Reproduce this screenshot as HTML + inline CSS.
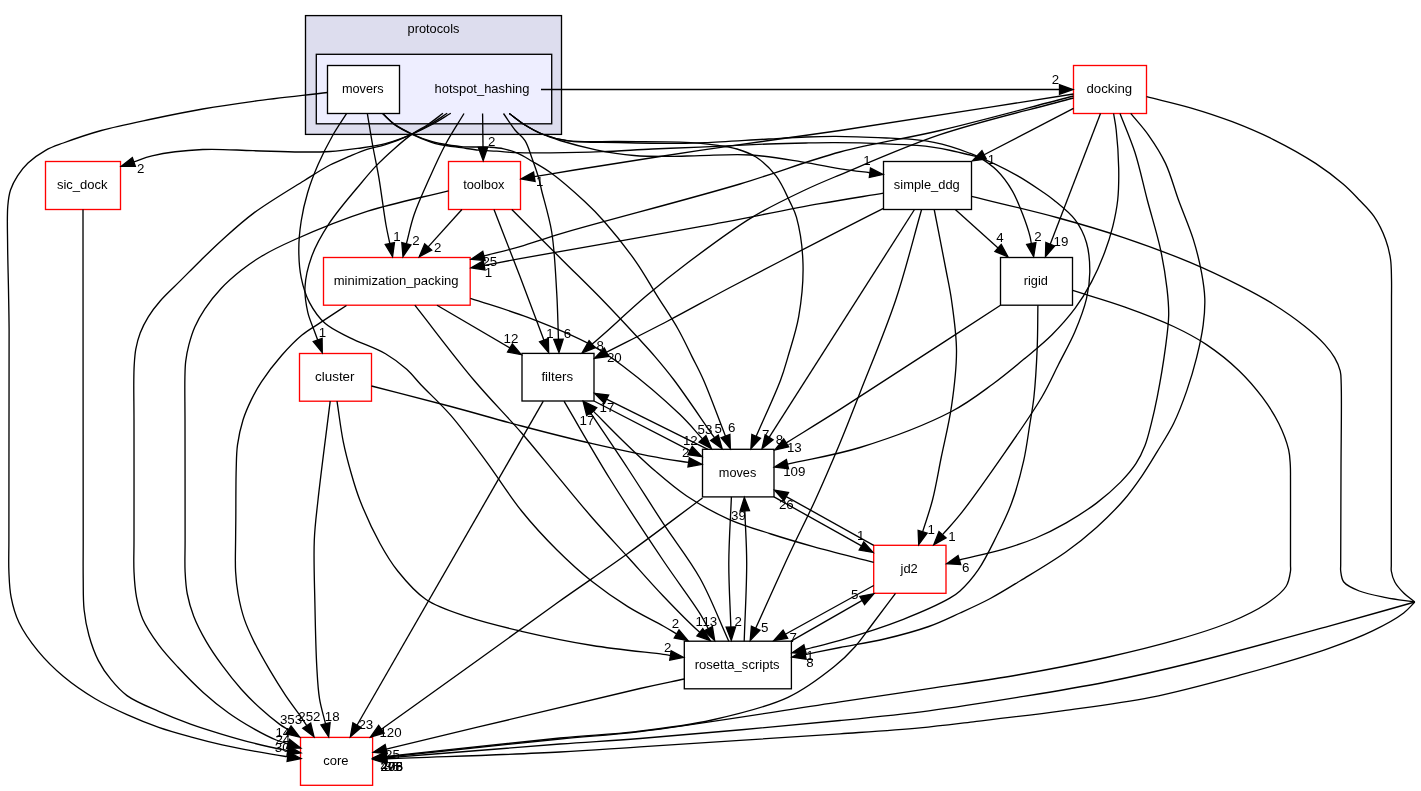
<!DOCTYPE html>
<html><head><meta charset="utf-8"><title>protocols/hotspot_hashing</title>
<style>html,body{margin:0;padding:0;background:#fff}body{width:1421px;height:791px;overflow:hidden}</style></head>
<body>
<svg width="1421" height="791" viewBox="0 0 1421 791" style="display:block">
<rect width="1421" height="791" fill="#fff"/>
<rect x="305.5" y="15.6" width="256" height="118.8" fill="#ddddee" stroke="#000" stroke-width="1.33"/>
<rect x="316.3" y="54.3" width="235.4" height="69.5" fill="#eeeeff" stroke="#000" stroke-width="1.33"/>
<g font-family="Liberation Sans, sans-serif" font-size="13.33" fill="#000" style="filter:grayscale(1)">
<text x="407.55" y="32.60" textLength="51.90" lengthAdjust="spacingAndGlyphs">protocols</text>
<text x="434.50" y="93.20" textLength="95.00" lengthAdjust="spacingAndGlyphs">hotspot_hashing</text>
</g>
<rect x="327.5" y="65.5" width="72.00" height="48.00" fill="#fff" stroke="#000" stroke-width="1.33"/>
<rect x="1073.5" y="65.5" width="73.00" height="48.00" fill="#fff" stroke="#f00" stroke-width="1.33"/>
<rect x="45.5" y="161.5" width="75.00" height="48.00" fill="#fff" stroke="#f00" stroke-width="1.33"/>
<rect x="448.5" y="161.5" width="72.00" height="48.00" fill="#fff" stroke="#f00" stroke-width="1.33"/>
<rect x="883.5" y="161.5" width="88.00" height="48.00" fill="#fff" stroke="#000" stroke-width="1.33"/>
<rect x="323.5" y="257.5" width="146.70" height="47.70" fill="#fff" stroke="#f00" stroke-width="1.33"/>
<rect x="1000.5" y="257.5" width="72.00" height="47.70" fill="#fff" stroke="#000" stroke-width="1.33"/>
<rect x="299.5" y="353.5" width="72.00" height="47.70" fill="#fff" stroke="#f00" stroke-width="1.33"/>
<rect x="522" y="353.4" width="72.00" height="47.60" fill="#fff" stroke="#000" stroke-width="1.33"/>
<rect x="702.5" y="449.3" width="71.50" height="47.60" fill="#fff" stroke="#000" stroke-width="1.33"/>
<rect x="873.7" y="545.3" width="72.30" height="48.00" fill="#fff" stroke="#f00" stroke-width="1.33"/>
<rect x="684.3" y="641.2" width="107.10" height="47.60" fill="#fff" stroke="#000" stroke-width="1.33"/>
<rect x="300.5" y="737.4" width="72.10" height="47.90" fill="#fff" stroke="#f00" stroke-width="1.33"/>
<g font-family="Liberation Sans, sans-serif" font-size="13.33" fill="#000" style="filter:grayscale(1)">
<text x="341.90" y="93.00" textLength="41.80" lengthAdjust="spacingAndGlyphs">movers</text>
<text x="1086.50" y="93.00" textLength="45.60" lengthAdjust="spacingAndGlyphs">docking</text>
<text x="56.95" y="189.00" textLength="50.70" lengthAdjust="spacingAndGlyphs">sic_dock</text>
<text x="463.15" y="189.00" textLength="41.30" lengthAdjust="spacingAndGlyphs">toolbox</text>
<text x="893.85" y="189.00" textLength="65.90" lengthAdjust="spacingAndGlyphs">simple_ddg</text>
<text x="333.70" y="284.85" textLength="124.90" lengthAdjust="spacingAndGlyphs">minimization_packing</text>
<text x="1023.75" y="284.85" textLength="24.10" lengthAdjust="spacingAndGlyphs">rigid</text>
<text x="315.05" y="380.85" textLength="39.50" lengthAdjust="spacingAndGlyphs">cluster</text>
<text x="541.45" y="380.70" textLength="31.70" lengthAdjust="spacingAndGlyphs">filters</text>
<text x="718.80" y="476.60" textLength="37.50" lengthAdjust="spacingAndGlyphs">moves</text>
<text x="900.50" y="572.80" textLength="17.30" lengthAdjust="spacingAndGlyphs">jd2</text>
<text x="694.70" y="668.50" textLength="84.90" lengthAdjust="spacingAndGlyphs">rosetta_scripts</text>
<text x="323.20" y="764.85" textLength="25.30" lengthAdjust="spacingAndGlyphs">core</text>
</g>
<g font-family="Liberation Sans, sans-serif" font-size="13.33" fill="#000" style="filter:grayscale(1)">
<text x="136.89" y="173.40" textLength="7.41" lengthAdjust="spacingAndGlyphs">2</text>
<text x="1051.69" y="84.40" textLength="7.41" lengthAdjust="spacingAndGlyphs">2</text>
<text x="863.29" y="165.40" textLength="7.41" lengthAdjust="spacingAndGlyphs">1</text>
<text x="987.79" y="164.00" textLength="7.41" lengthAdjust="spacingAndGlyphs">1</text>
<text x="487.89" y="145.80" textLength="7.41" lengthAdjust="spacingAndGlyphs">2</text>
<text x="535.99" y="186.40" textLength="7.41" lengthAdjust="spacingAndGlyphs">1</text>
<text x="393.29" y="241.40" textLength="7.41" lengthAdjust="spacingAndGlyphs">1</text>
<text x="412.29" y="245.10" textLength="7.41" lengthAdjust="spacingAndGlyphs">2</text>
<text x="433.89" y="252.20" textLength="7.41" lengthAdjust="spacingAndGlyphs">2</text>
<text x="482.39" y="266.10" textLength="14.83" lengthAdjust="spacingAndGlyphs">25</text>
<text x="484.79" y="276.80" textLength="7.41" lengthAdjust="spacingAndGlyphs">1</text>
<text x="996.29" y="242.40" textLength="7.41" lengthAdjust="spacingAndGlyphs">4</text>
<text x="1034.29" y="240.80" textLength="7.41" lengthAdjust="spacingAndGlyphs">2</text>
<text x="1053.59" y="246.40" textLength="14.83" lengthAdjust="spacingAndGlyphs">19</text>
<text x="318.79" y="336.80" textLength="7.41" lengthAdjust="spacingAndGlyphs">1</text>
<text x="503.49" y="343.40" textLength="14.83" lengthAdjust="spacingAndGlyphs">12</text>
<text x="546.19" y="337.70" textLength="7.41" lengthAdjust="spacingAndGlyphs">1</text>
<text x="563.79" y="338.30" textLength="7.41" lengthAdjust="spacingAndGlyphs">6</text>
<text x="596.49" y="350.40" textLength="7.41" lengthAdjust="spacingAndGlyphs">8</text>
<text x="606.89" y="361.50" textLength="14.83" lengthAdjust="spacingAndGlyphs">20</text>
<text x="599.59" y="411.60" textLength="14.83" lengthAdjust="spacingAndGlyphs">17</text>
<text x="579.49" y="425.30" textLength="14.83" lengthAdjust="spacingAndGlyphs">17</text>
<text x="697.59" y="434.40" textLength="14.83" lengthAdjust="spacingAndGlyphs">53</text>
<text x="714.59" y="433.40" textLength="7.41" lengthAdjust="spacingAndGlyphs">5</text>
<text x="727.89" y="431.90" textLength="7.41" lengthAdjust="spacingAndGlyphs">6</text>
<text x="682.89" y="445.20" textLength="14.83" lengthAdjust="spacingAndGlyphs">12</text>
<text x="681.89" y="456.60" textLength="7.41" lengthAdjust="spacingAndGlyphs">2</text>
<text x="762.09" y="438.90" textLength="7.41" lengthAdjust="spacingAndGlyphs">7</text>
<text x="775.79" y="444.10" textLength="7.41" lengthAdjust="spacingAndGlyphs">8</text>
<text x="786.89" y="452.40" textLength="14.83" lengthAdjust="spacingAndGlyphs">13</text>
<text x="783.18" y="476.20" textLength="22.24" lengthAdjust="spacingAndGlyphs">109</text>
<text x="778.89" y="508.90" textLength="14.83" lengthAdjust="spacingAndGlyphs">26</text>
<text x="730.99" y="519.90" textLength="14.83" lengthAdjust="spacingAndGlyphs">39</text>
<text x="856.99" y="540.40" textLength="7.41" lengthAdjust="spacingAndGlyphs">1</text>
<text x="927.49" y="534.40" textLength="7.41" lengthAdjust="spacingAndGlyphs">1</text>
<text x="948.19" y="541.40" textLength="7.41" lengthAdjust="spacingAndGlyphs">1</text>
<text x="961.89" y="572.00" textLength="7.41" lengthAdjust="spacingAndGlyphs">6</text>
<text x="851.09" y="599.00" textLength="7.41" lengthAdjust="spacingAndGlyphs">5</text>
<text x="671.69" y="628.40" textLength="7.41" lengthAdjust="spacingAndGlyphs">2</text>
<text x="695.49" y="625.80" textLength="7.41" lengthAdjust="spacingAndGlyphs">1</text>
<text x="702.39" y="625.80" textLength="14.83" lengthAdjust="spacingAndGlyphs">13</text>
<text x="734.59" y="626.40" textLength="7.41" lengthAdjust="spacingAndGlyphs">2</text>
<text x="760.99" y="632.10" textLength="7.41" lengthAdjust="spacingAndGlyphs">5</text>
<text x="789.49" y="641.60" textLength="7.41" lengthAdjust="spacingAndGlyphs">7</text>
<text x="806.29" y="660.20" textLength="7.41" lengthAdjust="spacingAndGlyphs">1</text>
<text x="806.29" y="666.90" textLength="7.41" lengthAdjust="spacingAndGlyphs">8</text>
<text x="663.89" y="652.20" textLength="7.41" lengthAdjust="spacingAndGlyphs">2</text>
<text x="279.88" y="724.00" textLength="22.24" lengthAdjust="spacingAndGlyphs">353</text>
<text x="298.28" y="720.90" textLength="22.24" lengthAdjust="spacingAndGlyphs">252</text>
<text x="324.79" y="720.90" textLength="14.83" lengthAdjust="spacingAndGlyphs">18</text>
<text x="358.39" y="728.70" textLength="14.83" lengthAdjust="spacingAndGlyphs">23</text>
<text x="379.38" y="737.10" textLength="22.24" lengthAdjust="spacingAndGlyphs">120</text>
<text x="275.39" y="737.10" textLength="14.83" lengthAdjust="spacingAndGlyphs">14</text>
<text x="275.39" y="744.40" textLength="14.83" lengthAdjust="spacingAndGlyphs">24</text>
<text x="274.79" y="752.40" textLength="14.83" lengthAdjust="spacingAndGlyphs">30</text>
<text x="384.99" y="758.90" textLength="14.83" lengthAdjust="spacingAndGlyphs">25</text>
<text x="380.58" y="770.90" textLength="22.24" lengthAdjust="spacingAndGlyphs">208</text>
<text x="380.58" y="770.90" textLength="22.24" lengthAdjust="spacingAndGlyphs">296</text>
<text x="380.58" y="770.90" textLength="22.24" lengthAdjust="spacingAndGlyphs">475</text>
<text x="384.29" y="770.90" textLength="14.83" lengthAdjust="spacingAndGlyphs">36</text>
</g>
<g fill="none" stroke="#000" stroke-width="1.33">
<path d="M541.00,89.50C627.33,89.50 713.63,89.50 800.00,89.50C886.46,89.50 973.00,89.50 1059.50,89.50"/>
<path d="M482.60,113.50L483.02,147.30"/>
<path d="M464.00,113.50C457.77,123.90 451.02,134.00 445.30,144.70C439.55,155.43 434.70,166.38 429.60,177.80C424.25,189.78 417.99,203.26 414.00,215.00C410.57,225.08 408.92,234.18 406.38,243.77"/>
<path d="M450.80,113.30C444.53,117.03 438.43,121.04 432.00,124.50C425.54,127.98 419.31,131.08 412.10,134.10C403.93,137.53 394.49,141.31 385.40,143.70C376.35,146.07 366.95,147.10 357.70,148.40C348.48,149.70 339.43,150.89 330.00,151.50C320.21,152.13 311.12,152.06 300.00,152.00C286.08,151.92 268.93,151.11 253.00,150.70C236.52,150.28 219.47,148.66 202.70,149.50C185.80,150.34 164.54,152.92 152.00,155.80C144.32,157.57 139.90,159.92 133.85,161.98"/>
<path d="M447.20,113.30C441.47,117.03 435.87,121.03 430.00,124.50C424.16,127.96 418.76,131.00 412.10,134.10C404.18,137.78 393.57,142.08 385.40,144.70C378.75,146.84 372.99,147.33 366.90,149.30C360.69,151.31 354.62,154.10 348.50,156.70C342.32,159.33 336.58,161.55 330.00,165.00C321.95,169.22 314.06,174.42 304.00,180.70C289.78,189.58 267.57,202.75 253.00,213.60C241.07,222.48 231.33,231.67 222.10,240.00C214.26,247.07 207.84,253.42 200.90,260.20C194.04,266.89 187.44,273.66 180.70,280.40C173.94,287.16 166.10,294.13 160.40,300.70C155.62,306.20 151.72,311.27 148.30,316.80C145.05,322.05 142.30,327.49 140.20,333.00C138.18,338.30 136.80,343.76 135.80,349.20C134.81,354.56 134.53,359.99 134.20,365.40C133.87,370.79 133.86,375.05 133.80,381.60C133.70,391.68 133.96,403.65 134.00,420.00C134.08,448.90 134.00,512.84 134.00,540.00C134.00,553.96 133.51,561.73 134.00,571.70C134.44,580.65 134.95,588.98 136.50,597.10C137.98,604.85 139.59,611.96 142.90,619.40C146.65,627.85 152.85,636.83 158.70,644.80C164.49,652.69 170.83,659.48 177.80,667.00C185.52,675.32 194.53,684.58 203.20,692.40C211.48,699.86 219.94,706.81 228.60,713.00C236.89,718.92 245.71,724.25 254.00,728.90C261.55,733.14 269.86,737.39 276.20,740.00C280.70,741.86 284.14,742.61 288.10,743.92"/>
<path d="M443.00,113.30C438.00,117.03 433.16,121.03 428.00,124.50C422.86,127.96 417.39,130.37 412.10,134.10C406.26,138.22 400.42,143.28 394.60,148.40C388.42,153.84 381.91,159.83 376.10,165.90C370.39,171.87 366.14,177.08 360.00,184.50C351.24,195.08 337.39,210.81 329.00,223.70C321.75,234.83 315.63,245.66 311.60,256.70C307.93,266.77 305.51,277.31 305.00,287.00C304.54,295.80 306.07,304.80 307.80,312.40C309.28,318.90 312.19,324.95 314.00,330.00C315.37,333.82 316.46,336.70 317.68,340.05"/>
<path d="M503.50,113.50C507.33,119.00 511.12,125.23 515.00,130.00C518.30,134.06 522.27,136.31 525.00,140.60C528.12,145.51 529.74,152.09 532.00,158.30C534.45,165.04 537.45,173.73 539.10,179.60C540.24,183.65 540.40,185.37 541.50,190.00C543.70,199.31 549.21,216.62 551.70,232.00C554.65,250.23 555.56,273.61 556.70,292.50C557.70,309.09 557.88,323.71 558.47,339.31"/>
<path d="M509.30,113.50C514.53,117.33 519.53,121.58 525.00,125.00C530.44,128.40 535.58,131.52 542.00,134.00C549.56,136.92 557.66,139.23 567.80,140.60C581.80,142.49 600.86,141.26 618.60,141.50C638.10,141.77 661.99,141.25 680.00,142.10C694.19,142.77 707.54,143.85 718.00,145.30C725.45,146.34 730.76,147.10 737.00,149.00C743.44,150.96 749.92,153.02 756.00,157.00C763.07,161.63 770.59,168.84 776.20,176.20C781.90,183.68 786.19,194.06 789.80,201.60C792.58,207.42 794.61,210.58 796.50,217.40C799.62,228.69 802.54,247.96 803.00,264.00C803.49,281.00 801.51,300.47 798.70,316.70C796.21,331.04 791.36,345.10 788.00,356.60C785.41,365.47 784.11,370.62 780.60,380.00C775.05,394.84 764.31,417.57 756.17,436.36"/>
<path d="M509.30,113.50C514.53,117.33 519.53,121.58 525.00,125.00C530.44,128.40 536.16,131.41 542.00,134.00C547.83,136.58 552.91,138.31 560.00,140.50C569.88,143.55 583.77,147.31 596.00,149.80C608.43,152.33 621.52,154.41 634.00,155.50C645.98,156.55 658.03,156.40 669.40,156.40C679.97,156.40 688.51,155.82 700.00,155.60C714.80,155.32 733.90,153.97 750.80,155.00C767.77,156.03 785.46,159.27 801.60,161.80C816.40,164.12 831.58,167.49 844.00,169.40C853.68,170.89 861.28,171.61 869.91,172.72"/>
<path d="M509.30,113.50C514.53,117.33 519.53,121.58 525.00,125.00C530.44,128.40 535.58,131.49 542.00,134.00C549.56,136.95 557.66,139.31 567.80,140.80C581.80,142.85 600.86,142.07 618.60,142.50C638.10,142.97 664.06,143.51 680.00,143.40C690.18,143.33 694.76,143.14 705.00,142.70C721.36,142.00 750.29,140.03 768.70,139.00C782.79,138.21 794.29,137.43 806.00,137.00C816.41,136.62 824.34,136.34 835.50,136.40C850.15,136.48 871.51,137.33 886.30,138.00C897.79,138.52 908.20,138.91 916.90,139.80C923.41,140.47 928.27,141.17 933.90,142.30C939.57,143.44 945.19,144.92 950.80,146.60C956.49,148.31 962.68,150.51 967.80,152.50C972.13,154.18 975.43,155.20 979.60,157.60C985.01,160.72 991.72,165.27 997.00,170.50C1002.72,176.17 1008.05,183.58 1012.30,190.80C1016.50,197.95 1019.43,205.93 1022.40,213.60C1025.32,221.13 1028.59,230.91 1030.00,236.40C1030.77,239.41 1030.86,241.15 1031.30,243.53"/>
<path d="M383.00,113.80C386.87,117.40 390.11,121.34 394.60,124.60C399.65,128.26 406.03,131.38 412.10,134.30C418.32,137.29 426.30,140.56 431.50,142.30C434.86,143.42 436.51,143.79 440.00,144.50C445.46,145.62 454.44,146.72 461.20,147.70C467.39,148.60 473.06,149.62 479.00,150.20C484.90,150.78 490.54,150.81 496.70,151.20C503.45,151.63 510.05,152.41 517.90,152.70C527.66,153.06 538.65,152.91 550.80,152.80C565.90,152.66 584.67,152.33 601.60,151.70C618.54,151.07 635.74,149.76 652.40,149.00C668.52,148.27 682.72,147.93 700.00,147.20C720.65,146.32 748.60,144.71 768.00,144.00C782.49,143.47 794.13,143.22 806.00,143.00C816.45,142.81 824.35,142.64 835.50,142.70C850.09,142.78 871.23,143.26 886.00,143.80C897.56,144.23 908.14,144.66 916.90,145.40C923.42,145.95 928.26,146.55 933.90,147.40C939.56,148.25 945.17,149.32 950.80,150.50C956.47,151.69 962.66,153.22 967.80,154.50C972.10,155.57 974.66,155.79 979.60,157.60C988.73,160.95 1006.15,169.37 1017.30,175.60C1026.79,180.90 1036.03,187.43 1042.70,192.00C1047.17,195.07 1049.55,196.59 1053.70,200.00C1059.76,204.98 1069.46,212.32 1075.00,219.70C1080.22,226.65 1084.02,234.31 1086.50,242.70C1089.17,251.73 1089.87,262.73 1089.80,272.30C1089.74,281.33 1088.64,289.46 1086.50,298.60C1084.04,309.08 1079.57,320.69 1075.00,331.50C1070.31,342.59 1064.11,353.39 1058.60,364.30C1053.08,375.22 1048.97,384.94 1041.90,397.00C1032.45,413.12 1018.49,432.86 1005.50,451.60C991.35,472.00 971.89,499.75 960.00,514.70C953.06,523.43 948.35,528.01 942.52,534.67"/>
<path d="M382.50,113.60C386.53,117.20 389.99,121.14 394.60,124.40C399.72,128.02 406.02,131.17 412.10,134.00C418.31,136.89 426.30,139.89 431.50,141.50C434.87,142.54 436.51,142.84 440.00,143.50C445.46,144.54 454.51,146.03 461.20,146.60C467.16,147.10 473.10,146.90 478.20,147.00C482.38,147.09 485.60,146.94 489.60,147.20C494.06,147.49 499.04,147.79 503.70,148.80C508.48,149.83 513.27,151.39 517.90,153.40C522.71,155.49 527.00,158.28 532.00,161.20C537.85,164.62 543.83,167.74 550.80,172.80C560.69,179.99 575.10,192.66 584.70,201.60C592.34,208.71 597.30,213.63 604.40,221.70C613.96,232.57 626.85,248.75 636.00,261.80C644.08,273.32 649.98,284.38 657.00,295.60C663.99,306.78 671.92,318.26 678.00,329.00C683.39,338.51 687.59,347.77 692.00,356.60C696.05,364.71 699.28,370.41 703.50,380.00C709.93,394.58 718.16,417.44 725.49,436.16"/>
<path d="M367.40,113.80C369.13,124.20 370.71,134.48 372.60,145.00C374.54,155.81 376.85,165.85 378.90,177.80C381.34,192.08 383.83,212.89 386.00,225.00C387.37,232.64 388.57,237.39 389.86,243.59"/>
<path d="M346.50,113.70C341.80,121.13 336.92,128.00 332.40,136.00C327.45,144.76 322.37,154.74 318.20,164.30C314.12,173.65 310.45,183.14 307.60,192.70C304.81,202.05 302.67,211.52 301.20,221.00C299.75,230.38 298.80,239.87 298.80,249.30C298.80,258.73 299.35,268.58 301.20,277.60C302.97,286.25 305.41,294.76 309.40,302.40C313.42,310.10 318.69,317.76 325.30,323.60C332.16,329.66 340.97,333.15 350.10,337.80C360.73,343.22 375.47,347.84 385.50,353.70C393.76,358.52 400.56,363.81 406.70,369.30C412.17,374.20 415.25,378.73 420.90,384.70C428.99,393.23 440.75,403.81 450.80,415.40C462.49,428.89 474.54,445.67 486.20,461.40C498.15,477.52 509.34,495.79 521.60,511.00C533.00,525.14 544.88,537.95 557.00,550.00C568.52,561.46 580.30,572.19 592.40,581.80C603.93,590.96 615.79,599.13 627.80,606.60C639.41,613.81 654.23,620.91 663.20,626.00C668.77,629.16 672.16,631.27 676.63,633.90"/>
<path d="M327.50,92.50C302.80,95.43 275.74,98.28 253.40,101.30C234.88,103.81 219.57,106.06 202.70,109.00C185.77,111.95 168.87,115.42 152.00,119.00C135.07,122.59 116.89,126.18 101.30,130.50C87.62,134.29 73.52,139.22 63.30,143.00C56.23,145.62 51.31,147.12 45.60,150.30C39.52,153.69 32.85,158.44 28.00,163.00C23.80,166.95 20.62,171.09 17.70,175.60C14.79,180.09 12.15,184.94 10.50,190.00C8.84,195.08 8.36,199.50 7.80,206.00C6.94,215.94 7.51,230.73 7.60,244.00C7.70,258.60 8.24,275.20 8.50,290.00C8.74,303.80 8.99,314.00 9.10,330.00C9.27,354.00 9.03,387.85 9.00,420.00C8.96,457.13 8.91,512.84 8.90,540.00C8.89,553.96 8.47,561.73 8.90,571.70C9.29,580.64 9.45,588.72 11.10,597.10C12.78,605.66 14.98,614.07 19.00,622.50C23.57,632.08 30.78,642.18 38.10,651.10C45.58,660.21 54.19,668.69 63.50,676.50C73.16,684.61 84.38,692.26 95.20,698.70C105.57,704.88 116.31,709.80 127.00,714.60C137.48,719.31 148.04,723.58 158.70,727.30C169.21,730.97 179.88,733.87 190.50,736.80C201.04,739.70 211.59,742.41 222.20,744.80C232.76,747.18 243.40,749.15 254.00,751.10C264.56,753.05 281.44,755.86 285.70,756.50C286.77,756.66 287.05,756.68 287.72,756.77"/>
<path d="M1073.50,94.00C995.67,106.17 907.96,120.36 840.00,130.50C787.43,138.34 745.37,143.63 700.00,150.40C657.00,156.81 604.73,165.12 574.50,170.00C557.38,172.76 547.71,174.47 534.31,176.70"/>
<path d="M1073.50,96.00C1029.00,107.50 981.38,120.71 940.00,130.50C904.36,138.93 873.12,143.16 840.00,152.00C806.45,160.95 778.28,172.58 740.00,184.00C689.08,199.19 599.56,222.15 561.00,233.60C542.45,239.11 533.28,242.77 520.00,246.60C507.64,250.16 495.97,252.85 483.95,255.98"/>
<path d="M1073.50,98.00C1029.00,110.23 980.93,120.92 940.00,134.70C903.89,146.86 864.73,164.48 840.00,174.80C825.28,180.94 817.76,183.94 805.00,190.00C789.04,197.58 770.05,206.45 752.00,217.40C731.49,229.85 707.73,247.74 689.00,261.80C673.30,273.59 660.64,283.81 646.70,295.60C632.43,307.68 614.28,324.78 604.40,333.50C599.12,338.16 596.25,340.58 592.17,344.12"/>
<path d="M1073.50,108.40L984.13,154.75"/>
<path d="M1100.50,113.50L1050.23,244.23"/>
<path d="M1113.60,113.50C1114.47,119.00 1115.46,123.35 1116.20,130.00C1117.32,140.04 1118.49,155.87 1118.70,168.00C1118.89,179.12 1118.79,189.90 1117.70,200.00C1116.70,209.24 1114.96,217.60 1112.80,226.30C1110.61,235.13 1107.97,243.68 1104.60,252.60C1100.95,262.26 1096.40,272.71 1091.40,282.10C1086.51,291.29 1081.32,299.88 1075.00,308.40C1068.29,317.45 1060.22,326.48 1052.00,334.70C1043.78,342.92 1035.04,349.88 1025.70,357.70C1015.46,366.28 1004.68,375.39 992.90,384.00C980.10,393.36 968.58,402.60 951.50,411.50C927.48,424.02 889.06,438.52 860.00,447.50C834.72,455.31 811.63,458.55 787.45,464.08"/>
<path d="M1120.00,113.50C1124.97,126.43 1130.49,138.57 1134.90,152.30C1139.70,167.25 1143.07,183.98 1147.30,200.00C1151.60,216.31 1157.14,233.71 1160.50,249.30C1163.48,263.09 1165.64,276.86 1167.00,288.70C1168.10,298.32 1168.86,305.75 1168.70,315.00C1168.52,325.36 1167.00,335.86 1165.40,347.90C1163.43,362.71 1159.93,383.24 1157.20,397.20C1155.16,407.61 1153.26,415.85 1151.10,424.30C1149.17,431.83 1147.61,438.82 1145.00,445.50C1142.50,451.92 1139.72,457.84 1135.90,463.70C1131.78,470.01 1126.71,475.84 1120.80,481.90C1113.90,488.98 1105.30,496.45 1096.50,503.10C1087.18,510.14 1076.48,516.91 1066.20,522.80C1056.23,528.51 1046.06,533.66 1035.80,538.00C1025.82,542.22 1016.74,545.25 1005.50,548.60C991.83,552.67 974.77,556.18 959.41,559.98"/>
<path d="M1130.70,113.40C1136.73,120.80 1143.16,127.57 1148.80,135.60C1154.81,144.15 1160.70,153.24 1165.50,163.40C1170.75,174.52 1173.97,187.60 1178.50,200.00C1183.22,212.91 1189.36,226.75 1193.30,239.40C1196.83,250.76 1199.56,261.89 1201.50,272.30C1203.22,281.50 1204.52,289.82 1204.80,298.60C1205.08,307.35 1204.40,315.69 1203.20,324.90C1201.85,335.27 1199.31,346.82 1196.60,357.70C1193.86,368.72 1190.59,379.72 1186.80,390.60C1182.94,401.66 1178.67,413.14 1173.60,423.50C1168.75,433.42 1162.64,442.63 1157.20,451.60C1152.11,460.01 1147.47,467.85 1142.00,475.80C1136.37,483.99 1130.80,491.93 1123.80,500.00C1115.89,509.12 1106.09,518.79 1096.50,527.40C1086.89,536.03 1077.58,543.58 1066.20,551.70C1052.80,561.27 1034.40,572.11 1020.70,580.50C1009.60,587.29 1000.55,593.03 990.30,598.50C980.31,603.84 970.22,608.35 960.00,613.00C949.72,617.68 940.27,622.43 928.80,626.50C915.45,631.25 899.28,635.49 884.40,639.00C869.67,642.48 853.89,644.77 840.00,647.50C827.69,649.92 816.82,652.18 805.22,654.53"/>
<path d="M1146.60,96.70C1161.23,100.40 1176.13,103.59 1190.50,107.80C1204.66,111.94 1218.41,116.42 1232.20,121.70C1246.22,127.07 1260.18,132.96 1273.90,139.80C1287.99,146.82 1303.33,155.37 1315.60,163.40C1326.05,170.25 1335.61,177.58 1343.40,184.30C1349.65,189.69 1354.18,194.63 1359.30,200.00C1364.38,205.33 1369.74,210.15 1374.00,216.40C1378.61,223.16 1382.81,231.89 1385.60,239.40C1388.07,246.05 1389.52,252.39 1390.50,259.00C1391.48,265.56 1391.33,272.17 1391.50,278.90C1391.67,285.83 1391.50,290.09 1391.50,300.00C1391.49,323.64 1391.43,378.11 1391.40,420.00C1391.36,466.05 1391.31,548.66 1391.30,565.00C1391.30,568.32 1390.95,568.73 1391.30,571.00C1391.79,574.15 1392.92,578.50 1394.80,582.00C1396.89,585.87 1400.38,589.67 1403.70,593.00C1407.04,596.34 1411.10,599.00 1414.80,602.00"/>
<path d="M1414.80,602.00C1411.10,605.67 1408.65,609.23 1403.70,613.00C1396.20,618.72 1384.11,625.33 1372.60,630.90C1359.32,637.33 1345.69,642.50 1328.20,648.60C1303.85,657.09 1269.17,667.05 1239.50,675.20C1210.00,683.31 1180.43,691.45 1150.70,697.40C1121.26,703.29 1091.60,706.73 1062.00,710.80C1032.44,714.86 999.04,718.74 973.20,721.80C953.21,724.16 939.55,725.96 920.00,727.80C896.06,730.05 872.68,731.51 840.00,733.80C788.35,737.42 691.66,743.44 640.00,746.80C607.33,748.92 591.78,750.33 560.00,752.00C513.23,754.45 444.33,756.63 386.49,758.94"/>
<path d="M883.50,193.20C862.33,196.70 844.47,199.33 820.00,203.70C786.28,209.72 744.07,218.57 700.00,226.70C646.09,236.64 557.01,251.81 520.00,258.60C503.46,261.63 496.10,263.13 484.16,265.39"/>
<path d="M883.50,208.40C866.93,216.80 853.32,223.58 833.80,233.60C805.66,248.04 761.07,271.10 731.00,287.00C707.33,299.51 688.77,310.02 667.80,321.00C647.26,331.75 626.92,341.83 606.47,352.24"/>
<path d="M955.30,209.50L998.09,247.94"/>
<path d="M914.50,209.50L769.13,437.40"/>
<path d="M934.20,209.50C938.13,229.67 942.85,253.33 946.00,270.00C948.22,281.73 949.90,288.66 951.50,300.00C953.56,314.66 956.42,333.40 956.50,350.70C956.58,368.83 954.12,388.35 951.50,406.40C948.98,423.74 944.59,440.82 941.30,457.00C938.27,471.92 935.88,486.82 932.50,500.00C929.55,511.48 925.93,521.22 922.64,531.83"/>
<path d="M921.60,209.50C912.97,239.67 905.79,269.88 895.70,300.00C885.34,330.95 870.25,366.51 860.00,392.70C852.43,412.03 847.16,425.77 840.00,443.00C832.33,461.46 823.76,481.44 815.30,500.00C807.08,518.02 798.97,533.58 790.00,552.80C779.33,575.66 767.13,603.10 755.69,628.26"/>
<path d="M971.50,196.40C1000.53,203.60 1031.69,210.61 1058.60,218.00C1082.13,224.46 1102.52,230.45 1124.30,237.80C1146.32,245.23 1169.82,253.93 1190.00,262.40C1207.77,269.86 1224.63,277.95 1239.30,285.40C1251.49,291.59 1261.42,296.78 1272.20,303.50C1283.33,310.44 1295.64,318.99 1305.00,326.50C1312.66,332.64 1319.56,338.81 1324.80,344.60C1328.89,349.12 1331.99,353.16 1334.60,357.70C1337.04,361.95 1339.11,366.42 1340.20,370.90C1341.24,375.19 1340.97,377.71 1341.20,384.00C1341.79,400.09 1341.08,440.62 1341.00,470.00C1340.92,500.88 1340.72,552.28 1340.70,565.00C1340.69,568.20 1340.39,568.72 1340.70,571.00C1341.13,574.14 1341.39,578.90 1343.80,582.00C1346.81,585.89 1353.23,588.55 1359.30,591.00C1366.82,594.04 1376.89,595.78 1386.00,597.60C1395.38,599.47 1405.20,600.53 1414.80,602.00"/>
<path d="M1414.80,602.00C1385.93,610.13 1360.19,617.62 1328.20,626.40C1288.59,637.27 1234.99,652.15 1195.00,662.00C1162.52,670.00 1135.95,676.09 1106.30,682.00C1076.78,687.88 1047.12,692.60 1017.50,697.40C987.95,702.19 958.41,706.95 928.80,710.80C899.25,714.64 875.55,716.96 840.00,720.50C786.70,725.81 691.67,734.40 640.00,738.50C607.35,741.09 591.76,741.64 560.00,744.00C513.21,747.48 444.30,753.26 386.46,757.88"/>
<path d="M1000.50,305.20C947.00,339.93 879.33,384.40 840.00,409.40C817.37,423.79 804.12,431.73 786.19,442.90"/>
<path d="M1037.90,305.20C1037.67,319.43 1037.81,333.16 1037.20,347.90C1036.54,363.75 1035.42,383.23 1033.90,397.20C1032.77,407.60 1031.35,414.61 1029.80,424.30C1028.01,435.55 1026.52,448.19 1023.70,460.70C1020.61,474.38 1016.43,489.98 1011.60,503.10C1007.20,515.07 1001.91,525.46 996.40,536.50C990.79,547.74 984.82,560.34 978.20,569.90C972.54,578.08 965.48,586.03 960.00,591.00C956.34,594.33 954.61,595.44 949.80,598.20C940.07,603.77 920.18,612.68 903.30,619.30C884.00,626.87 858.07,635.05 840.00,640.40C826.71,644.34 816.70,646.45 805.05,649.48"/>
<path d="M1072.70,290.40C1089.90,295.87 1107.40,300.75 1124.30,306.80C1141.03,312.79 1159.01,319.60 1173.60,326.50C1185.87,332.30 1195.84,337.47 1206.50,344.60C1217.78,352.14 1229.69,361.69 1239.30,370.90C1248.06,379.30 1255.58,388.16 1262.30,397.20C1268.64,405.72 1274.36,414.51 1278.80,423.50C1283.02,432.03 1286.77,442.03 1288.60,449.70C1289.96,455.39 1289.98,459.92 1290.30,465.00C1290.61,470.02 1290.46,473.54 1290.50,480.00C1290.58,491.80 1290.50,514.82 1290.50,530.00C1290.50,542.70 1290.50,558.17 1290.50,565.00C1290.50,567.83 1290.85,568.56 1290.50,571.00C1289.93,574.99 1289.12,581.61 1286.00,586.50C1282.00,592.78 1274.01,598.58 1266.00,604.00C1256.21,610.62 1243.83,616.47 1230.60,622.00C1214.86,628.57 1196.45,634.13 1177.30,639.70C1155.44,646.06 1131.36,651.89 1106.30,657.50C1078.43,663.74 1047.15,669.81 1017.50,675.00C987.98,680.17 958.38,684.12 928.80,688.60C899.21,693.08 875.53,696.60 840.00,701.90C786.68,709.85 691.72,725.37 640.00,731.60C607.40,735.53 591.76,735.88 560.00,739.00C513.20,743.60 444.28,751.03 386.42,757.05"/>
<path d="M83.00,209.50C83.03,273.00 83.06,341.38 83.10,400.00C83.13,450.25 83.19,508.00 83.20,540.00C83.21,556.69 83.03,565.98 83.20,578.10C83.36,589.15 83.03,599.86 84.10,609.80C85.07,618.78 86.56,626.83 88.90,635.20C91.29,643.77 94.49,652.94 98.40,660.60C102.00,667.65 106.30,673.84 111.10,679.70C115.85,685.50 120.32,690.79 127.00,695.60C135.39,701.64 148.03,706.62 158.70,711.40C169.20,716.10 179.84,720.26 190.50,724.10C201.01,727.88 211.59,731.11 222.20,734.30C232.76,737.48 243.37,740.54 254.00,743.20C264.54,745.84 281.36,749.34 285.70,750.20C286.82,750.42 287.11,750.45 287.81,750.57"/>
<path d="M461.90,209.50L428.18,246.90"/>
<path d="M494.00,209.50C502.67,231.87 511.56,254.51 520.00,276.60C528.20,298.06 535.98,319.00 543.96,340.20"/>
<path d="M511.80,209.50C528.53,226.23 545.97,243.69 562.00,259.70C576.73,274.41 591.19,288.38 604.40,302.00C616.36,314.33 628.73,327.74 638.00,337.80C644.66,345.03 649.27,349.91 655.00,356.60C661.25,363.90 666.68,370.31 674.00,380.00C685.19,394.82 700.98,418.49 714.46,437.74"/>
<path d="M448.50,190.80C421.60,197.60 393.86,202.86 367.80,211.20C342.36,219.34 313.35,231.36 293.90,240.00C280.77,245.84 270.95,250.65 261.60,256.20C253.87,260.79 247.90,265.07 241.30,270.30C234.38,275.78 227.22,282.00 221.10,288.50C215.12,294.85 209.44,302.03 204.90,308.80C200.84,314.86 197.51,320.80 194.80,327.00C192.20,332.95 190.34,339.27 188.80,345.20C187.37,350.68 186.35,355.90 185.70,361.30C185.05,366.67 185.06,370.82 184.90,377.50C184.65,388.31 184.97,402.24 185.00,420.00C185.05,449.85 185.09,512.84 185.10,540.00C185.11,553.96 184.63,562.07 185.10,571.70C185.50,579.80 185.89,586.64 187.30,594.00C188.73,601.47 190.78,608.68 193.70,616.20C196.93,624.53 201.56,633.42 206.30,641.60C211.06,649.82 216.47,657.59 222.20,665.40C228.11,673.46 234.74,681.86 241.30,689.20C247.46,696.09 253.81,702.38 260.30,708.30C266.52,713.98 274.10,720.23 279.40,724.10C282.90,726.66 285.48,728.00 288.51,729.94"/>
<path d="M437.00,305.20L509.92,347.92"/>
<path d="M470.40,298.40C489.53,304.73 508.38,309.98 527.80,317.40C548.54,325.32 573.84,335.57 591.00,344.90C603.77,351.84 610.95,357.09 622.80,366.00C639.41,378.50 665.61,400.80 680.00,414.60C689.56,423.77 695.00,430.81 702.49,438.92"/>
<path d="M414.80,305.20C434.47,330.13 454.81,357.49 473.80,380.00C490.24,399.48 507.02,416.16 521.60,433.00C534.45,447.84 545.19,461.42 557.00,475.60C568.79,489.76 580.46,504.28 592.40,518.00C604.06,531.40 616.00,544.00 627.80,557.00C639.60,570.00 651.24,583.47 663.20,596.00C674.85,608.21 694.84,627.95 698.60,631.30C699.27,631.90 699.43,631.96 699.84,632.29"/>
<path d="M346.50,305.50C337.67,311.30 327.97,317.61 320.00,322.90C313.41,327.28 307.93,330.10 302.00,335.00C295.18,340.63 288.30,347.87 281.80,355.30C274.80,363.30 266.98,373.49 261.60,381.60C257.35,388.01 254.46,393.31 251.40,399.60C248.24,406.09 245.27,412.76 243.00,420.00C240.56,427.79 238.63,436.60 237.50,444.90C236.39,453.03 236.49,459.69 236.20,469.30C235.78,483.14 235.92,506.96 235.80,520.00C235.73,528.19 235.64,532.57 235.60,540.00C235.55,549.36 235.06,562.07 235.60,571.70C236.05,579.80 236.73,586.37 238.10,594.00C239.58,602.24 241.67,611.33 244.40,619.40C247.02,627.16 250.18,633.83 254.00,641.60C258.43,650.63 264.40,661.02 269.80,670.20C274.97,678.99 280.27,687.50 285.70,695.60C290.88,703.33 297.80,712.24 301.60,717.80C303.83,721.06 305.03,723.05 306.74,725.68"/>
<path d="M371.50,386.00C397.93,392.83 425.14,399.65 450.80,406.50C475.10,412.99 497.96,419.79 521.60,426.00C545.16,432.19 568.75,438.26 592.40,443.70C615.95,449.12 645.47,455.43 663.20,458.60C673.77,460.49 680.17,461.10 688.65,462.36"/>
<path d="M337.00,401.20C339.10,414.77 340.77,429.37 343.30,441.90C345.51,452.83 348.09,462.45 350.90,472.30C353.61,481.79 355.84,489.86 359.80,500.00C364.89,513.01 373.04,530.86 380.00,543.50C385.75,553.94 390.56,562.12 397.70,571.00C405.61,580.85 414.73,591.93 426.00,599.50C438.06,607.61 453.36,612.06 468.50,617.20C485.04,622.81 502.56,626.87 521.60,631.30C543.43,636.38 568.73,641.66 592.40,645.50C615.93,649.32 651.76,652.72 663.20,654.30C666.87,654.81 668.04,655.03 670.46,655.40"/>
<path d="M330.20,401.20C326.13,434.13 320.77,474.37 318.00,500.00C316.24,516.28 314.92,525.12 314.30,540.00C313.52,558.71 314.48,582.34 314.90,603.50C315.32,624.67 315.79,649.48 316.80,667.00C317.51,679.40 317.90,688.81 319.50,698.70C320.94,707.61 323.52,715.43 325.53,723.79"/>
<path d="M594.00,401.00L690.06,450.58"/>
<path d="M564.00,401.20C579.33,427.13 593.81,452.95 610.00,479.00C626.81,506.04 646.94,536.33 663.20,560.50C676.45,580.19 692.30,601.14 700.00,613.60C703.98,620.04 705.52,623.68 708.28,628.72"/>
<path d="M543.30,401.20L356.98,725.26"/>
<path d="M707.80,449.30L606.55,399.21"/>
<path d="M731.40,496.90C730.53,518.93 728.88,541.14 728.80,563.00C728.72,584.51 730.17,605.67 730.85,627.01"/>
<path d="M774.00,496.90L861.49,545.95"/>
<path d="M702.50,498.00C677.60,516.50 652.49,535.70 627.80,553.50C604.01,570.65 581.10,585.87 557.00,603.00C531.58,621.07 506.56,639.55 479.10,659.30C448.40,681.39 413.96,705.93 381.38,729.25"/>
<path d="M744.20,641.20C745.03,615.13 746.75,586.43 746.70,563.00C746.66,543.87 745.44,528.26 744.81,510.89"/>
<path d="M728.80,641.20C719.20,620.20 711.10,598.04 700.00,578.20C689.16,558.83 675.26,541.73 663.20,523.40C651.20,505.16 639.83,486.81 627.80,468.50C615.62,449.96 602.99,431.39 590.58,412.84"/>
<path d="M791.00,641.20L862.25,600.45"/>
<path d="M684.30,679.00C669.53,682.17 660.79,683.79 640.00,688.50C590.10,699.81 470.81,728.93 386.22,749.15"/>
<path d="M873.70,545.30L786.23,496.61"/>
<path d="M873.70,562.30C853.57,557.07 831.60,551.70 813.30,546.60C797.91,542.31 785.03,538.54 771.00,534.00C756.90,529.44 742.69,525.46 728.90,519.30C714.57,512.90 699.44,504.50 686.70,496.00C675.02,488.21 665.39,479.76 655.00,470.80C644.25,461.53 633.62,451.20 623.30,441.20C613.09,431.31 603.35,421.15 593.37,411.12"/>
<path d="M873.70,585.50L785.36,634.24"/>
<path d="M895.50,593.40C887.57,603.93 878.98,615.43 871.70,625.00C865.61,633.01 860.99,640.10 854.80,647.00C848.54,653.98 842.88,659.73 834.30,666.60C822.29,676.21 806.07,688.94 788.00,697.40C766.42,707.51 737.53,714.28 712.00,720.00C686.86,725.63 661.38,728.60 636.00,731.60C610.72,734.59 590.47,735.09 560.00,738.00C513.90,742.40 444.28,750.34 386.42,756.52"/>
</g>
<g fill="#000" stroke="#000" stroke-width="1.33">
<polygon points="1072.80,89.50 1059.50,94.20 1059.50,84.80"/>
<polygon points="483.19,160.60 478.32,147.36 487.72,147.24"/>
<polygon points="402.98,256.62 401.84,242.56 410.93,244.97"/>
<polygon points="121.26,166.27 132.34,157.54 135.37,166.43"/>
<polygon points="300.74,748.08 286.63,748.38 289.57,739.46"/>
<polygon points="322.26,352.54 313.27,341.67 322.10,338.44"/>
<polygon points="558.97,352.60 553.77,339.49 563.17,339.13"/>
<polygon points="750.88,448.56 751.86,434.49 760.48,438.22"/>
<polygon points="883.11,174.41 869.32,177.38 870.51,168.06"/>
<polygon points="1033.67,256.61 1026.67,244.37 1035.92,242.69"/>
<polygon points="933.76,544.67 938.99,531.57 946.06,537.76"/>
<polygon points="730.34,448.55 721.12,437.88 729.87,434.45"/>
<polygon points="392.56,256.61 385.25,244.55 394.46,242.64"/>
<polygon points="688.10,640.65 674.25,637.95 679.02,629.85"/>
<polygon points="300.91,758.51 287.11,761.43 288.34,752.11"/>
<polygon points="521.19,178.88 533.54,172.06 535.08,181.33"/>
<polygon points="471.08,259.32 482.77,251.43 485.13,260.52"/>
<polygon points="582.13,352.84 589.09,340.57 595.25,347.67"/>
<polygon points="972.32,160.88 981.96,150.58 986.29,158.93"/>
<polygon points="1045.45,256.65 1045.84,242.55 1054.61,245.92"/>
<polygon points="774.48,467.04 786.40,459.50 788.50,468.66"/>
<polygon points="946.67,563.80 958.06,555.48 960.76,564.48"/>
<polygon points="792.19,657.16 804.29,649.92 806.15,659.13"/>
<polygon points="373.20,759.47 386.30,754.24 386.68,763.64"/>
<polygon points="471.09,267.87 483.28,260.78 485.03,270.01"/>
<polygon points="594.62,358.28 604.34,348.06 608.61,356.43"/>
<polygon points="1007.98,256.83 994.94,251.44 1001.23,244.45"/>
<polygon points="761.98,448.61 765.17,434.87 773.09,439.92"/>
<polygon points="918.71,544.53 918.15,530.44 927.13,533.22"/>
<polygon points="750.19,640.36 751.42,626.31 759.97,630.20"/>
<polygon points="373.20,758.94 386.08,753.20 386.83,762.57"/>
<polygon points="774.89,449.93 783.70,438.91 788.67,446.89"/>
<polygon points="792.18,652.82 803.87,644.93 806.23,654.03"/>
<polygon points="373.20,758.43 385.94,752.38 386.91,761.73"/>
<polygon points="300.91,752.88 287.00,755.20 288.63,745.94"/>
<polygon points="419.27,256.78 424.68,243.76 431.67,250.05"/>
<polygon points="548.65,352.64 539.57,341.86 548.36,338.54"/>
<polygon points="722.10,448.63 710.62,440.43 718.31,435.04"/>
<polygon points="299.71,737.12 285.98,733.90 291.05,725.99"/>
<polygon points="521.40,354.65 507.54,351.98 512.30,343.87"/>
<polygon points="711.52,448.69 699.04,442.11 705.94,435.73"/>
<polygon points="710.25,640.56 696.92,635.97 702.77,628.61"/>
<polygon points="314.02,736.81 302.81,728.25 310.68,723.11"/>
<polygon points="701.81,464.30 687.96,467.01 689.34,457.71"/>
<polygon points="683.61,657.40 669.75,660.05 671.16,650.75"/>
<polygon points="328.64,736.72 320.96,724.89 330.10,722.69"/>
<polygon points="701.88,456.68 687.90,454.76 692.21,446.40"/>
<polygon points="714.66,640.39 704.15,630.98 712.40,626.46"/>
<polygon points="350.35,736.79 352.90,722.92 361.05,727.61"/>
<polygon points="594.63,393.31 608.63,395.00 604.46,403.42"/>
<polygon points="731.28,640.30 726.15,627.16 735.55,626.86"/>
<polygon points="873.09,552.46 859.19,550.05 863.79,541.85"/>
<polygon points="370.57,736.99 378.65,725.43 384.12,733.07"/>
<polygon points="744.33,497.60 749.50,510.72 740.11,511.06"/>
<polygon points="583.19,401.78 594.49,410.23 586.67,415.45"/>
<polygon points="873.79,593.85 864.58,604.53 859.91,596.37"/>
<polygon points="373.28,752.24 385.12,744.57 387.31,753.72"/>
<polygon points="774.61,490.14 788.52,492.50 783.95,500.72"/>
<polygon points="583.99,401.70 596.71,407.81 590.04,414.44"/>
<polygon points="773.71,640.66 783.09,630.12 787.63,638.35"/>
<polygon points="373.20,757.93 385.92,751.84 386.92,761.19"/>
</g>
</svg>
</body></html>
